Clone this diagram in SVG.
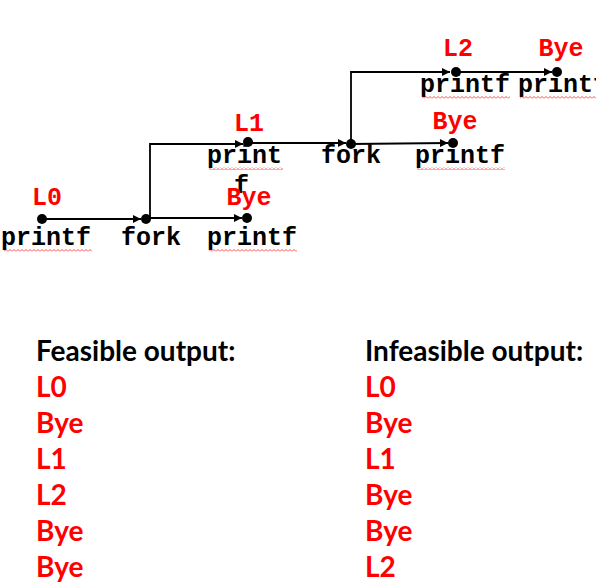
<svg xmlns="http://www.w3.org/2000/svg" width="596" height="588" viewBox="0 0 596 588">
<style>
.code{font-family:"Liberation Mono","Courier New",monospace;font-weight:bold;font-size:25px;fill:#000}
.lbl{font-family:"Liberation Mono","Courier New",monospace;font-weight:bold;font-size:25px;fill:#ff0000}
.edge{stroke:#000;stroke-width:1.8;fill:none}
.dot{fill:#000}
.hd{font-family:Lato,"Open Sans",sans-serif;font-weight:bold;font-size:28px;fill:#000}
.out{font-family:Lato,"Open Sans",sans-serif;font-weight:bold;font-size:28px;fill:#ff0000}
</style>
<defs>
<marker id="arr" viewBox="0 0 10 10" refX="10" refY="5" markerWidth="10" markerHeight="8" markerUnits="userSpaceOnUse" orient="auto">
<path d="M0,0 L10,5 L0,10 z" fill="#000"/>
</marker>
<pattern id="wave" width="4" height="3" patternUnits="userSpaceOnUse">
<path d="M0,2.5 L2,0.5 L4,2.5" stroke="#ff0000" stroke-width="0.7" fill="none"/>
</pattern>
</defs>
<g id="connectors">
<line class="edge" x1="42" y1="219" x2="141" y2="219" marker-end="url(#arr)"/>
<line class="edge" x1="146" y1="218" x2="242" y2="218" marker-end="url(#arr)"/>
<polyline class="edge" points="150,218 150,144 243,144" marker-end="url(#arr)"/>
<line class="edge" x1="248" y1="143" x2="346" y2="143" marker-end="url(#arr)"/>
<line class="edge" x1="351" y1="144" x2="448" y2="143" marker-end="url(#arr)"/>
<polyline class="edge" points="351,144 351,72 450,72" marker-end="url(#arr)"/>
<line class="edge" x1="456" y1="72" x2="552" y2="72" marker-end="url(#arr)"/>
</g>
<g id="n-l0">
<circle class="dot" cx="42" cy="219" r="5"/>
<text class="lbl" x="47" y="205" text-anchor="middle">L0</text>
<text class="code" x="1" y="245">printf</text>
<rect x="4" y="249" width="88" height="3" fill="url(#wave)"/>
</g>
<g id="n-fork1">
<circle class="dot" cx="146" cy="219" r="5"/>
<text class="code" x="121" y="245">fork</text>
</g>
<g id="n-bye1">
<circle class="dot" cx="247" cy="218" r="5"/>
<text class="code" x="207" y="245">printf</text>
<rect x="209" y="249" width="88" height="3" fill="url(#wave)"/>
</g>
<g id="n-l1">
<circle class="dot" cx="248" cy="142" r="5"/>
<text class="lbl" x="249" y="131" text-anchor="middle">L1</text>
<text class="code" x="207" y="163">print</text>
<rect x="209" y="167" width="74" height="3" fill="url(#wave)"/>
<text class="code" x="234" y="193">f</text>
</g>
<text class="lbl" x="249" y="205" text-anchor="middle">Bye</text>
<g id="n-fork2">
<circle class="dot" cx="351" cy="144" r="5"/>
<text class="code" x="321" y="163">fork</text>
</g>
<g id="n-bye2">
<circle class="dot" cx="453" cy="143" r="5"/>
<text class="lbl" x="455" y="129" text-anchor="middle">Bye</text>
<text class="code" x="415" y="163">printf</text>
<rect x="417" y="167" width="88" height="3" fill="url(#wave)"/>
</g>
<g id="n-l2">
<circle class="dot" cx="456" cy="72" r="5"/>
<text class="lbl" x="458" y="56" text-anchor="middle">L2</text>
<text class="code" x="420" y="92">printf</text>
<rect x="422" y="96" width="88" height="3" fill="url(#wave)"/>
</g>
<g id="n-bye3">
<circle class="dot" cx="557" cy="72" r="5"/>
<text class="lbl" x="561" y="56" text-anchor="middle">Bye</text>
<text class="code" x="518" y="92">printf</text>
<rect x="520" y="96" width="76" height="3" fill="url(#wave)"/>
</g>
<g id="feasible">
<text class="hd" x="36" y="361">Feasible output:</text>
<text class="out" x="36" y="397">L0</text>
<text class="out" x="36" y="433">Bye</text>
<text class="out" x="36" y="469">L1</text>
<text class="out" x="36" y="505">L2</text>
<text class="out" x="36" y="541">Bye</text>
<text class="out" x="36" y="577">Bye</text>
</g>
<g id="infeasible">
<text class="hd" x="365" y="361">Infeasible output:</text>
<text class="out" x="365" y="397">L0</text>
<text class="out" x="365" y="433">Bye</text>
<text class="out" x="365" y="469">L1</text>
<text class="out" x="365" y="505">Bye</text>
<text class="out" x="365" y="541">Bye</text>
<text class="out" x="365" y="577">L2</text>
</g>
</svg>
